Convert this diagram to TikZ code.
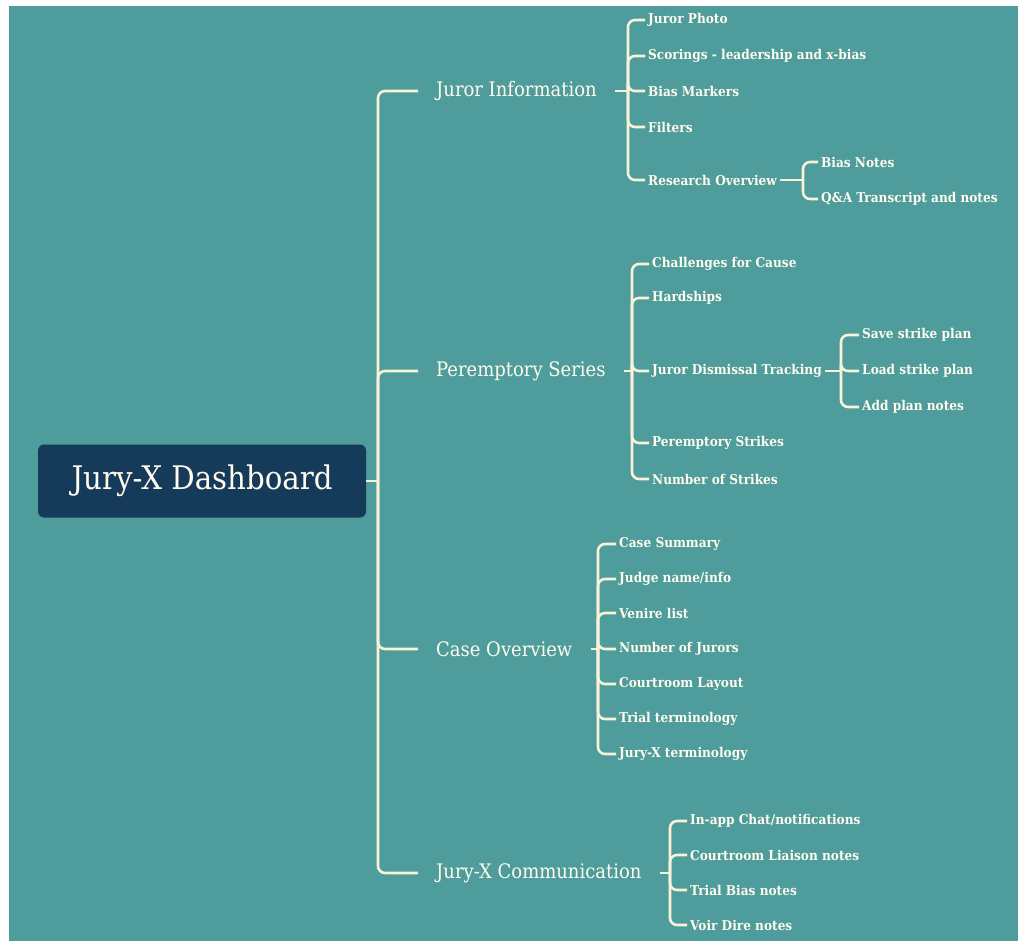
\documentclass[tikz,border=0pt]{standalone}
\usepackage{fontspec}
\newfontfamily\mapfont{DejaVu Serif Condensed}
\usetikzlibrary{positioning}
\definecolor{mapteal}{HTML}{4E9C9B}
\definecolor{rootblue}{HTML}{163A59}
\definecolor{linecream}{HTML}{F8F2D8}
\definecolor{textcream}{HTML}{FFFCEE}

\begin{document}
\begin{tikzpicture}[x=1pt,y=-1pt,
    link/.style={draw=linecream,line width=2.6pt,rounded corners=7pt},
    rootbox/.style={fill=rootblue,rounded corners=6pt,minimum width=328pt,minimum height=73pt,
        inner sep=0pt,text=textcream,font=\mapfont\fontsize{32.5}{38}\selectfont},
    branch/.style={anchor=west,inner xsep=18pt,inner ysep=2pt,text=textcream,
        font=\mapfont\fontsize{20}{24}\selectfont},
    leaf/.style={anchor=west,inner xsep=3pt,inner ysep=2pt,text=textcream,
        font=\mapfont\bfseries\fontsize{13.5}{16}\selectfont}]

    % Background
    \useasboundingbox (0,0) rectangle (1018,941);
    \fill[white] (0,0) rectangle (1018,941);
    \fill[mapteal] (9,6) rectangle (1018,941);

    % Root and trunk
    \node[rootbox] (root) at (202,481) {Jury-X Dashboard};
    \coordinate (trunk) at (378,481);
    \draw[link] (root.east) -- (trunk);

    % Main branches
    \node[branch] (info) at (418,91) {Juror Information};
    \node[branch] (series) at (418,371) {Peremptory Series};
    \node[branch] (overview) at (418,649) {Case Overview};
    \node[branch] (comm) at (418,873) {Jury-X Communication};
    \foreach \b in {info,series,overview,comm} {
        \draw[link] (trunk) |- (\b.west);
    }

    % Juror Information
    \coordinate (infoJ) at (628,91);
    \draw[link] (info.east) -- (infoJ);
    \foreach \nm/\y/\txt in {photo/20/Juror Photo, scor/56/{Scorings - leadership and x-bias},
        marks/91/Bias Markers, filt/127/Filters, research/180/Research Overview} {
        \node[leaf] (\nm) at (645,\y) {\txt};
        \draw[link] (infoJ) |- (\nm.west);
    }
    \coordinate (researchJ) at (803,180);
    \draw[link] (research.east) -- (researchJ);
    \foreach \nm/\y/\txt in {bnotes/162/Bias Notes, qa/199/Q\&A Transcript and notes} {
        \node[leaf] (\nm) at (818,\y) {\txt};
        \draw[link] (researchJ) |- (\nm.west);
    }

    % Peremptory Series
    \coordinate (seriesJ) at (632,371);
    \draw[link] (series.east) -- (seriesJ);
    \foreach \nm/\y/\txt in {chal/264/Challenges for Cause, hard/298/Hardships,
        dism/371/Juror Dismissal Tracking, pstrikes/443/Peremptory Strikes,
        nstrikes/479/Number of Strikes} {
        \node[leaf] (\nm) at (649,\y) {\txt};
        \draw[link] (seriesJ) |- (\nm.west);
    }
    \coordinate (dismJ) at (841,371);
    \draw[link] (dism.east) -- (dismJ);
    \foreach \nm/\y/\txt in {save/335/Save strike plan, load/371/Load strike plan,
        addp/407/Add plan notes} {
        \node[leaf] (\nm) at (859,\y) {\txt};
        \draw[link] (dismJ) |- (\nm.west);
    }

    % Case Overview
    \coordinate (overviewJ) at (598,649);
    \draw[link] (overview.east) -- (overviewJ);
    \foreach \nm/\y/\txt in {summary/544/Case Summary, judge/579/{Judge name/info},
        venire/613/Venire list, jurors/649/Number of Jurors, layout/684/Courtroom Layout,
        trial/719/Trial terminology, jxterm/754/Jury-X terminology} {
        \node[leaf] (\nm) at (616,\y) {\txt};
        \draw[link] (overviewJ) |- (\nm.west);
    }

    % Jury-X Communication
    \coordinate (commJ) at (670,873);
    \draw[link] (comm.east) -- (commJ);
    \foreach \nm/\y/\txt in {chat/821/{In-app Chat/notifications}, liaison/855/Courtroom Liaison notes,
        tbias/890/Trial Bias notes, voir/925/Voir Dire notes} {
        \node[leaf] (\nm) at (687,\y) {\txt};
        \draw[link] (commJ) |- (\nm.west);
    }
\end{tikzpicture}
\end{document}
